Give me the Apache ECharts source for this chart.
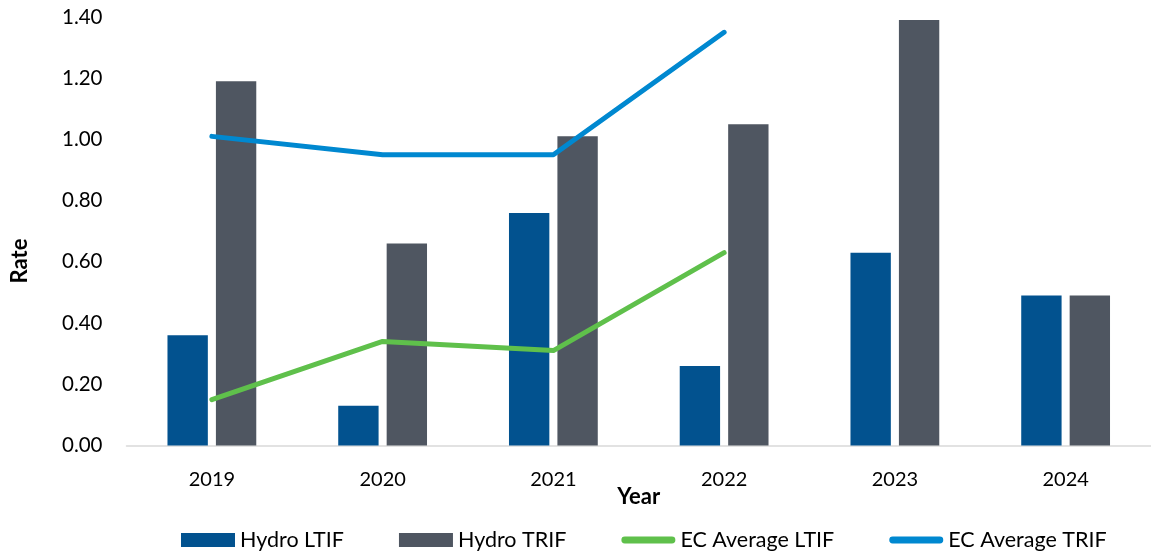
<!DOCTYPE html>
<html>
<head>
<meta charset="utf-8">
<style>
  html, body { margin: 0; padding: 0; background: #ffffff; }
  #chart { width: 1151px; height: 554px; }
</style>
<script src="https://cdn.jsdelivr.net/npm/echarts@6/dist/echarts.min.js"></script>
</head>
<body>
<div id="chart"></div>
<script>
// Injury frequency rates by year
const years = ['2019', '2020', '2021', '2022', '2023', '2024'];
const hydroLTIF = [0.36, 0.13, 0.76, 0.26, 0.63, 0.49];
const hydroTRIF = [1.19, 0.66, 1.01, 1.05, 1.39, 0.49];
const ecAvgLTIF = [0.15, 0.34, 0.31, 0.63, null, null];
const ecAvgTRIF = [1.01, 0.95, 0.95, 1.35, null, null];

const FONT = 'Lato';
// thick line with rounded ends for the line-series legend keys
const LINE_KEY = 'path://M3.5,0 H51.5 A3.5,3.5 0 0 1 51.5,7 H3.5 A3.5,3.5 0 0 1 3.5,0 Z';

const chart = echarts.init(document.getElementById('chart'), null, { renderer: 'canvas' });

chart.setOption({
  animation: false,
  backgroundColor: '#ffffff',
  grid: { left: 126.5, top: 17, width: 1032, height: 428.5, containLabel: false },
  legend: {
    left: 176,
    top: 524,
    itemWidth: 54,
    itemHeight: 14,
    itemGap: 55,
    symbolKeepAspect: true,
    textStyle: { fontFamily: FONT, fontSize: 21.5, color: '#000000' },
    data: [
      { name: 'Hydro LTIF', icon: 'rect' },
      { name: 'Hydro TRIF', icon: 'rect' },
      { name: 'EC Average LTIF', icon: LINE_KEY },
      { name: 'EC Average TRIF', icon: LINE_KEY }
    ]
  },
  xAxis: {
    type: 'category',
    data: years,
    name: 'Year',
    nameLocation: 'middle',
    nameGap: 40,
    nameMoveOverlap: false,
    nameTextStyle: { fontFamily: FONT, fontSize: 22, fontWeight: 'bold', color: '#000000' },
    axisLine: { lineStyle: { color: '#d9d9d9', width: 1.5 } },
    axisTick: { show: false },
    axisLabel: { fontFamily: FONT, fontSize: 20, color: '#000000', margin: 24 }
  },
  yAxis: {
    type: 'value',
    min: 0,
    max: 1.4,
    interval: 0.2,
    splitLine: { show: false },
    axisLine: { show: false },
    axisTick: { show: false },
    axisLabel: {
      fontFamily: FONT, fontSize: 20.5, color: '#000000', margin: 24,
      formatter: v => v.toFixed(2)
    }
  },
  graphic: [{
    type: 'text',
    x: 20,
    y: 261,
    rotation: Math.PI / 2,
    style: {
      text: 'Rate',
      fontFamily: FONT,
      fontSize: 22,
      fontWeight: 'bold',
      fill: '#000000',
      align: 'center',
      verticalAlign: 'middle'
    }
  }],
  series: [
    {
      name: 'Hydro LTIF',
      type: 'bar',
      data: hydroLTIF,
      barGap: '20%',
      barCategoryGap: '48%',
      itemStyle: { color: '#02528f' }
    },
    {
      name: 'Hydro TRIF',
      type: 'bar',
      data: hydroTRIF,
      barGap: '20%',
      barCategoryGap: '48%',
      itemStyle: { color: '#4f5661' }
    },
    {
      name: 'EC Average LTIF',
      type: 'line',
      data: ecAvgLTIF,
      symbol: 'none',
      connectNulls: false,
      itemStyle: { color: '#5fc04b' },
      lineStyle: { color: '#5fc04b', width: 5, cap: 'round', join: 'round' }
    },
    {
      name: 'EC Average TRIF',
      type: 'line',
      data: ecAvgTRIF,
      symbol: 'none',
      connectNulls: false,
      itemStyle: { color: '#0088d0' },
      lineStyle: { color: '#0088d0', width: 5, cap: 'round', join: 'round' }
    }
  ]
});
</script>
</body>
</html>
